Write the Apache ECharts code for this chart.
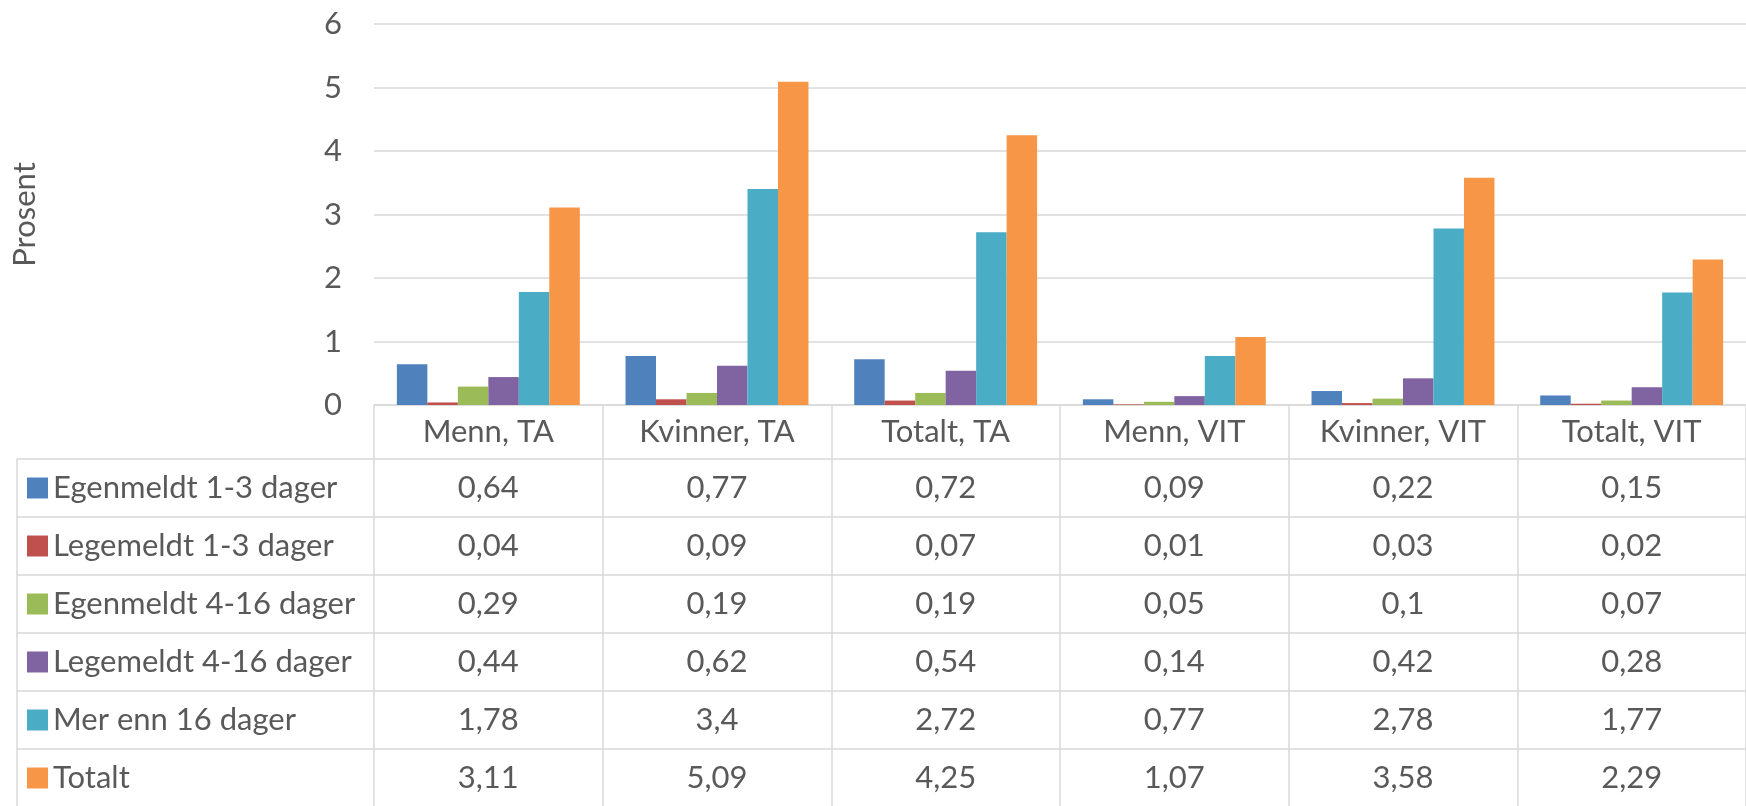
<!DOCTYPE html>
<html>
<head>
<meta charset="utf-8">
<title>Sykefravær</title>
<script src="https://cdn.jsdelivr.net/npm/echarts@6/dist/echarts.min.js"></script>
<style>
  html, body { margin: 0; padding: 0; background: #fff; }
  #main { width: 1746px; height: 806px; }
</style>
</head>
<body>
<div id="main"></div>
<script>
// data
const categories = ['Menn, TA', 'Kvinner, TA', 'Totalt, TA', 'Menn, VIT', 'Kvinner, VIT', 'Totalt, VIT']
const seriesNames = ['Egenmeldt 1-3 dager', 'Legemeldt 1-3 dager', 'Egenmeldt 4-16 dager', 'Legemeldt 4-16 dager', 'Mer enn 16 dager', 'Totalt']
const egenmeldt13 = [0.64, 0.77, 0.72, 0.09, 0.22, 0.15]
const legemeldt13 = [0.04, 0.09, 0.07, 0.01, 0.03, 0.02]
const egenmeldt416 = [0.29, 0.19, 0.19, 0.05, 0.1, 0.07]
const legemeldt416 = [0.44, 0.62, 0.54, 0.14, 0.42, 0.28]
const merEnn16 = [1.78, 3.4, 2.72, 0.77, 2.78, 1.77]
const totalt = [3.11, 5.09, 4.25, 1.07, 3.58, 2.29]
const yMin = 0
const yMax = 6
const yStep = 1

const allValues = [egenmeldt13, legemeldt13, egenmeldt416, legemeldt416, merEnn16, totalt]
const colors = ['#4F81BD', '#C0504D', '#9BBB59', '#8064A2', '#4BACC6', '#F79646']

// layout (table under the plot)
const W = 1746
const H = 806
const plotTop = 24
const plotLeft = 374
const axisY = 405
const headerH = 54
const rowH = 58
const tableLeft = 17
const textColor = '#595959'
const lineColor = '#d9d9d9'
const font = 'Lato, "Open Sans", sans-serif'
const fontSize = 31

const fmt = v => String(v).replace('.', ',')

var myChart = echarts.init(document.getElementById('main'))

// extra x-axes: one per table row, labels = values
const rowAxes = allValues.map((vals, i) => ({
  type: 'category',
  gridIndex: 0,
  position: 'bottom',
  data: vals.map(fmt),
  offset: headerH + rowH * i + rowH / 2,
  axisLine: { show: false },
  axisTick: { show: false },
  splitLine: { show: false },
  axisLabel: {
    interval: 0,
    margin: 0,
    verticalAlign: 'middle',
    color: textColor,
    fontSize: fontSize,
    fontFamily: font
  }
}))

// horizontal table lines
const tableLines = []
for (let i = 0; i < allValues.length; i++) {
  const y = axisY + headerH + rowH * i
  tableLines.push({
    type: 'line',
    shape: { x1: tableLeft, y1: y, x2: W, y2: y },
    style: { stroke: lineColor, lineWidth: 1.5 },
    silent: true
  })
}
tableLines.push({
  type: 'line',
  shape: { x1: tableLeft, y1: axisY + headerH, x2: tableLeft, y2: H },
  style: { stroke: lineColor, lineWidth: 1.5 },
  silent: true
})

var option = {
  animation: false,
  textStyle: { fontFamily: font },
  color: colors,
  grid: {
    left: plotLeft,
    right: 0,
    top: plotTop,
    bottom: H - axisY,
    containLabel: false,
    outerBoundsMode: 'none'
  },
  legend: {
    orient: 'vertical',
    left: 27,
    top: axisY + headerH + (rowH - 32) / 2,
    padding: 0,
    itemGap: rowH - 32,
    itemWidth: 21,
    itemHeight: 21,
    icon: 'rect',
    selectedMode: false,
    data: seriesNames,
    textStyle: { color: textColor, fontSize: fontSize, fontFamily: font, lineHeight: 32 }
  },
  xAxis: [
    {
      type: 'category',
      data: categories,
      axisLine: { lineStyle: { color: lineColor, width: 1.5 } },
      axisTick: { show: true, length: H - axisY, interval: 0, lineStyle: { color: lineColor, width: 1.5 } },
      axisLabel: {
        interval: 0,
        margin: headerH / 2,
        verticalAlign: 'middle',
        color: textColor,
        fontSize: fontSize,
        fontFamily: font
      }
    }
  ].concat(rowAxes),
  yAxis: {
    type: 'value',
    min: yMin,
    max: yMax,
    interval: yStep,
    name: 'Prosent',
    nameLocation: 'middle',
    nameGap: 334,
    nameRotate: 90,
    nameTextStyle: { color: textColor, fontSize: fontSize, fontFamily: font },
    axisLine: { show: false },
    axisTick: { show: false },
    axisLabel: { color: textColor, fontSize: fontSize, fontFamily: font, margin: 32 },
    splitLine: { lineStyle: { color: lineColor, width: 1.5 } }
  },
  series: seriesNames.map((name, i) => ({
    name: name,
    type: 'bar',
    xAxisIndex: 0,
    data: allValues[i],
    barGap: '0%',
    barCategoryGap: '20%',
    itemStyle: { color: colors[i] }
  })),
  graphic: tableLines
}

myChart.setOption(option)
</script>
</body>
</html>
